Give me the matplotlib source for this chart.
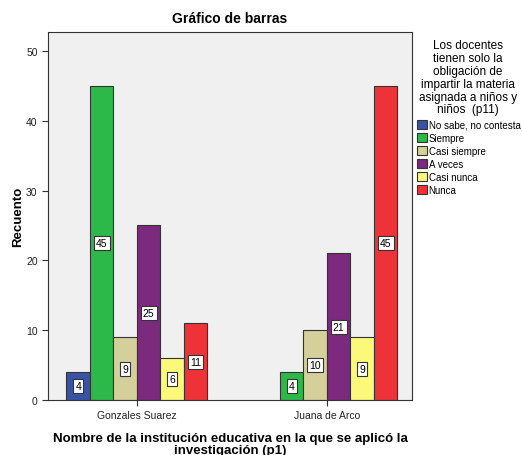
import matplotlib.pyplot as plt
import numpy as np
from matplotlib.patches import Patch

plt.rcParams['font.family'] = ['Liberation Sans', 'DejaVu Sans']

escuelas = ["Gonzales Suarez", "Juana de Arco"]
respuestas = ["No sabe, no contesta", "Siempre", "Casi siempre", "A veces", "Casi nunca", "Nunca"]
colores = ["#3953a4", "#2db84a", "#d4cf9b", "#7c2a7e", "#fbf87a", "#ee3338"]

no_sabe = [4, 0]
siempre = [45, 4]
casi_siempre = [9, 10]
a_veces = [25, 21]
casi_nunca = [6, 9]
nunca = [11, 45]
series = [no_sabe, siempre, casi_siempre, a_veces, casi_nunca, nunca]

fig = plt.figure(figsize=(5.22, 4.56), dpi=100)
ax = fig.add_axes([0.092, 0.1206, 0.697, 0.807])
ax.set_facecolor("#f0f0f0")

w = 0.1237
x = np.arange(len(escuelas))
for k, vals in enumerate(series):
    off = (k - 2.5) * w
    for i, v in enumerate(vals):
        if v == 0:
            continue
        ax.bar(x[i] + off, v, w, color=colores[k], edgecolor="#333333", linewidth=0.8)
        ax.text(x[i] + off, v / 2, str(v), ha="center", va="center", fontsize=7.5,
                bbox=dict(boxstyle="square,pad=0.2", fc="white", ec="#333333", lw=0.8))

ax.set_xlim(-0.468, 1.447)
ax.set_ylim(0, 52.7)
ax.set_yticks([0, 10, 20, 30, 40, 50])
ax.set_xticks(x)
ax.set_xticklabels(escuelas)
ax.tick_params(labelsize=7.5, length=4, color="#333333", labelcolor="#222222")
for s in ax.spines.values():
    s.set_color("#333333")
    s.set_linewidth(0.8)

ax.set_ylabel("Recuento", fontsize=9.5, fontweight="bold", labelpad=1)
ax.set_xlabel("Nombre de la institución educativa en la que se aplicó la\ninvestigación (p1)",
              fontsize=9.5, fontweight="bold", labelpad=8, linespacing=1.05)
ax.set_title("Gráfico de barras", fontsize=10, fontweight="bold", pad=7)

fig.text(468 / 522, 1 - 40 / 456,
         "Los docentes\ntienen solo la\nobligación de\nimpartir la materia\nasignada a niños y\nniños  (p11)",
         ha="center", va="top", fontsize=8.5, linespacing=1.1, multialignment="center")

handles = [Patch(facecolor=c, edgecolor="#333333", linewidth=0.8) for c in colores]
fig.legend(handles, respuestas, loc="upper left", bbox_to_anchor=(417 / 522, 1 - 121 / 456),
           fontsize=7, frameon=False, handlelength=1.0, handleheight=1.0,
           handletextpad=0.2, labelspacing=0.3, borderaxespad=0, borderpad=0)

fig.savefig("out.png", dpi=100)
